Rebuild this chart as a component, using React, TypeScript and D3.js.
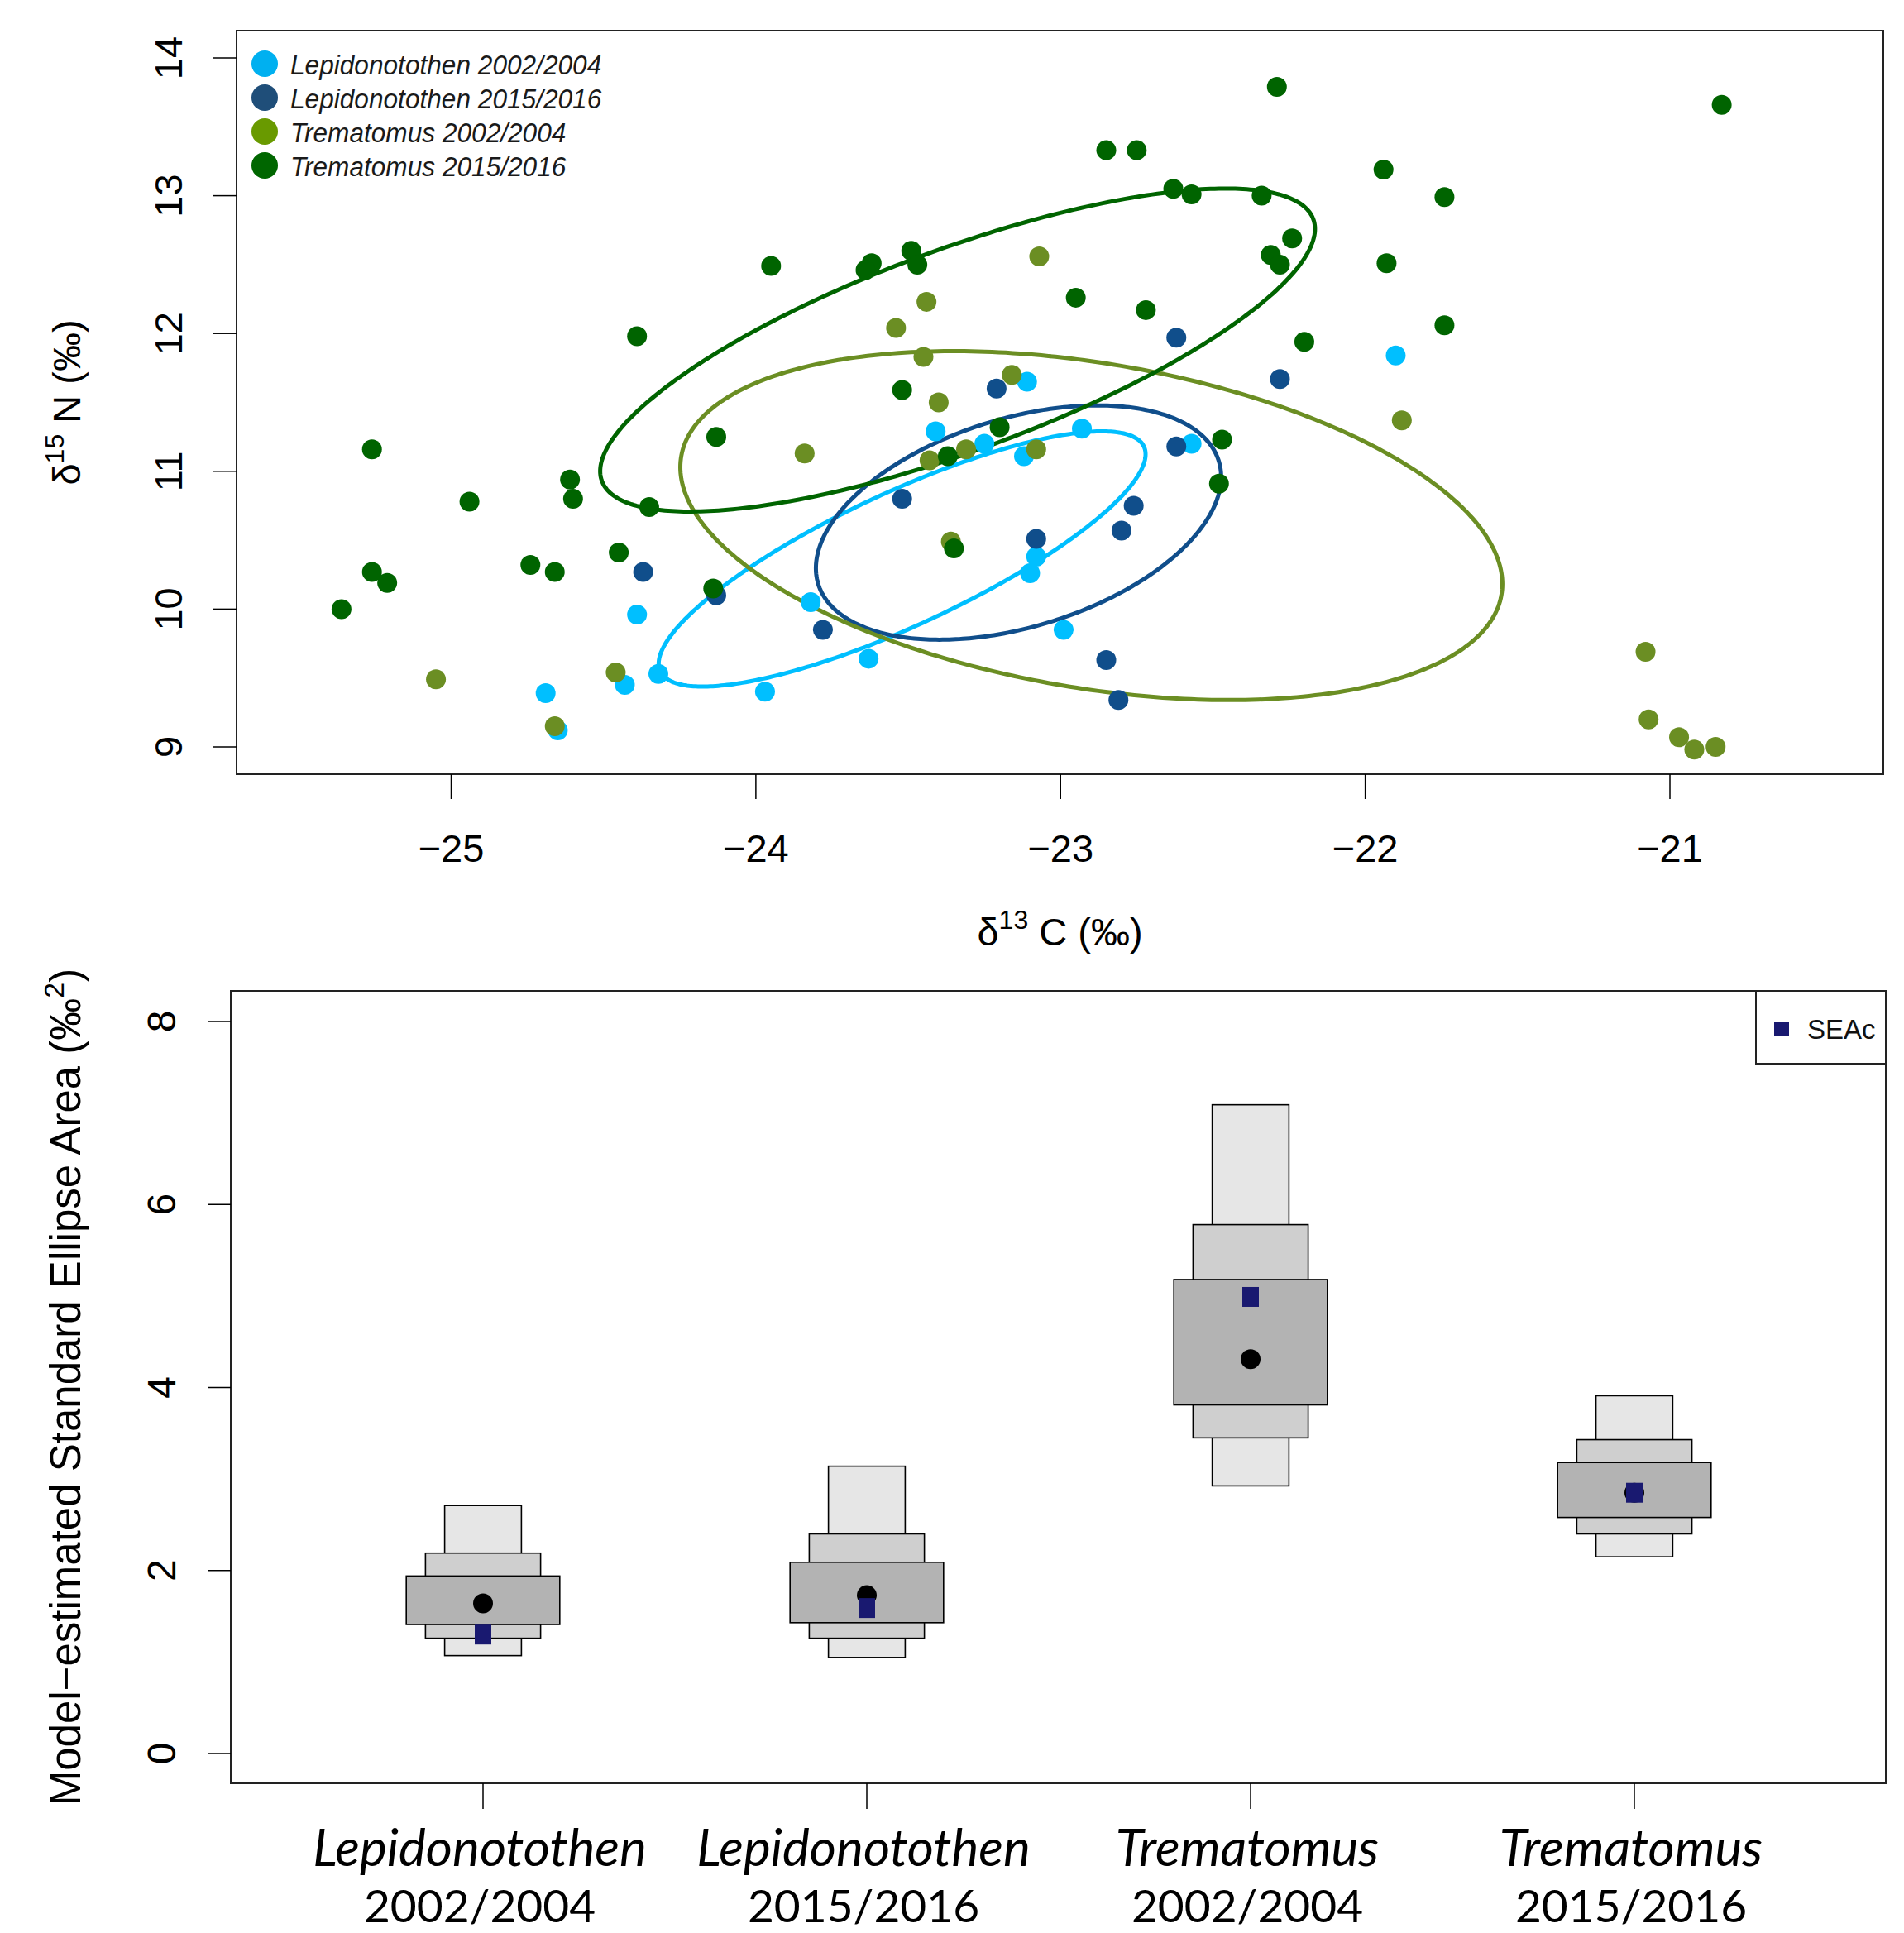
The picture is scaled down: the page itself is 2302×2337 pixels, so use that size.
import React from 'react';
import * as d3 from 'd3';

// d13C, d15N pairs
const lepido0204: [number, number][] = [
  [-23.11, 11.65], [-21.90, 11.84], [-23.41, 11.29], [-22.93, 11.31], [-23.25, 11.20],
  [-23.12, 11.11], [-22.57, 11.20], [-23.08, 10.38], [-23.10, 10.26], [-23.82, 10.05],
  [-22.99, 9.85], [-23.63, 9.64], [-23.97, 9.40], [-24.32, 9.53], [-24.39, 9.96],
  [-24.43, 9.45], [-24.69, 9.39], [-24.65, 9.12],
];
const lepido1516: [number, number][] = [
  [-22.62, 11.97], [-23.21, 11.60], [-22.28, 11.67], [-22.62, 11.18], [-23.52, 10.80],
  [-22.76, 10.75], [-22.80, 10.57], [-23.08, 10.51], [-24.37, 10.27], [-24.13, 10.10],
  [-23.78, 9.85], [-22.85, 9.63], [-22.81, 9.34],
];
const tremat0204: [number, number][] = [
  [-23.07, 12.56], [-23.44, 12.23], [-23.54, 12.04], [-23.45, 11.83], [-23.16, 11.70],
  [-23.40, 11.50], [-23.84, 11.13], [-23.43, 11.08], [-23.31, 11.16], [-23.08, 11.16],
  [-23.36, 10.49], [-21.88, 11.37], [-25.05, 9.49], [-24.46, 9.54], [-24.66, 9.15],
  [-21.08, 9.69], [-21.07, 9.20], [-20.97, 9.07], [-20.92, 8.98], [-20.85, 9.00],
];
const tremat1516: [number, number][] = [
  [-22.29, 13.79], [-20.83, 13.66], [-22.85, 13.33], [-22.75, 13.33], [-22.63, 13.05],
  [-22.57, 13.01], [-22.34, 13.00], [-21.94, 13.19], [-21.74, 12.99], [-22.24, 12.69],
  [-22.31, 12.57], [-22.28, 12.50], [-21.93, 12.51], [-21.74, 12.06], [-22.20, 11.94],
  [-23.95, 12.49], [-23.62, 12.51], [-23.64, 12.46], [-23.49, 12.60], [-23.47, 12.50],
  [-22.95, 12.26], [-22.72, 12.17], [-24.39, 11.98], [-23.52, 11.59], [-24.13, 11.25],
  [-23.20, 11.32], [-23.37, 11.11], [-22.47, 11.23], [-22.48, 10.91], [-23.35, 10.44],
  [-25.26, 11.16], [-24.94, 10.78], [-24.61, 10.94], [-24.60, 10.80], [-24.35, 10.74],
  [-24.74, 10.32], [-24.66, 10.27], [-24.45, 10.41], [-25.26, 10.27], [-25.21, 10.19],
  [-25.36, 10.00], [-24.14, 10.15],
];

// standard ellipses: centre x, centre y, sd x, sd y, correlation
const ellipses = [
  { name: 'lepido0204', cx: -23.52, cy: 10.364, sx: 0.799, sy: 0.926, rho: 0.82 },
  { name: 'lepido1516', cx: -23.138, cy: 10.628, sx: 0.665, sy: 0.85, rho: 0.39 },
  { name: 'tremat0204', cx: -22.899, cy: 10.606, sx: 1.349, sy: 1.266, rho: -0.335 },
  { name: 'tremat1516', cx: -23.338, cy: 11.88, sx: 1.173, sy: 1.172, rho: 0.75 },
];

const seriesNames = ['Lepidonotothen 2002/2004', 'Lepidonotothen 2015/2016', 'Trematomus 2002/2004', 'Trematomus 2015/2016'];
const seriesKeys = ['lepido0204', 'lepido1516', 'tremat0204', 'tremat1516'];
const pointColors = ['#00BFFF', '#104E8B', '#6B8E23', '#006400'];
const legendColors = ['#00B0F0', '#1F4E79', '#699A00', '#006600'];
const scatterData: Record<string, [number, number][]> = { lepido0204, lepido1516, tremat0204, tremat1516 };

const xTicksTop = [-25, -24, -23, -22, -21];
const yTicksTop = [9, 10, 11, 12, 13, 14];

// SIBER posterior SEA: 95%, 75%, 50% credible intervals, mode and SEAc
const groupGenus = ['Lepidonotothen', 'Lepidonotothen', 'Trematomus', 'Trematomus'];
const groupYears = ['2002/2004', '2015/2016', '2002/2004', '2015/2016'];
const ci95: [number, number][] = [[1.07, 2.71], [1.05, 3.14], [2.925, 7.09], [2.15, 3.91]];
const ci75: [number, number][] = [[1.26, 2.19], [1.26, 2.40], [3.45, 5.78], [2.40, 3.43]];
const ci50: [number, number][] = [[1.41, 1.94], [1.43, 2.09], [3.81, 5.18], [2.58, 3.18]];
const seaMode = [1.64, 1.73, 4.31, 2.85];
const seaC = [1.30, 1.59, 4.99, 2.85];
const yTicksBottom = [0, 2, 4, 6, 8];

const FONT = "'Liberation Sans', Arial, sans-serif";
const LABEL_FONT = "Lato, 'Open Sans', sans-serif";

function App() {
  // top panel
  const tp = { left: 286, right: 2277, top: 37, bottom: 936 };
  const x = d3.scaleLinear().domain([-25, -21]).range([545.5, 2019]);
  const y = d3.scaleLinear().domain([9, 14]).range([903, 70]);

  const ellipsePath = (e: typeof ellipses[0]) => {
    const ts = d3.range(0, 2 * Math.PI + 0.001, Math.PI / 180);
    const line = d3.line<number>()
      .x(t => x(e.cx + e.sx * Math.cos(t)))
      .y(t => y(e.cy + e.sy * (e.rho * Math.cos(t) + Math.sqrt(1 - e.rho * e.rho) * Math.sin(t))))
      .curve(d3.curveLinearClosed);
    return line(ts) || '';
  };

  // bottom panel
  const bp = { left: 279, right: 2280, top: 1198, bottom: 2156 };
  const bx = d3.scaleLinear().domain([1, 4]).range([584, 1976]);
  const by = d3.scaleLinear().domain([0, 8]).range([2120, 1235]);
  const grp = d3.range(4);

  const bar = (i: number, ci: [number, number], half: number, fill: string) => (
    <rect x={bx(i + 1 - half)} y={by(ci[1])} width={bx(i + 1 + half) - bx(i + 1 - half)}
      height={by(ci[0]) - by(ci[1])} fill={fill} stroke="#000" strokeWidth={1.6} />
  );

  return (
    <svg width={2302} height={2337} style={{ position: 'absolute', left: 0, top: 0, background: '#fff' }}
      fontFamily={FONT}>
      {/* ---------- top scatter ---------- */}
      <g>
        {ellipses.map((e, i) => (
          <path key={e.name} d={ellipsePath(e)} fill="none" stroke={pointColors[i]} strokeWidth={5} />
        ))}
        {seriesKeys.map((k, i) => (
          <g key={k} fill={pointColors[i]}>
            {scatterData[k].map((d, j) => <circle key={j} cx={x(d[0])} cy={y(d[1])} r={12} />)}
          </g>
        ))}
        <rect x={tp.left} y={tp.top} width={tp.right - tp.left} height={tp.bottom - tp.top}
          fill="none" stroke="#222" strokeWidth={2} />
        {xTicksTop.map(t => (
          <g key={t}>
            <line x1={x(t)} x2={x(t)} y1={tp.bottom} y2={tp.bottom + 30} stroke="#000" strokeWidth={1.5} />
            <text x={x(t)} y={1042} textAnchor="middle" fontSize={47}>{t < 0 ? '\u2212' + Math.abs(t) : t}</text>
          </g>
        ))}
        {yTicksTop.map(t => (
          <g key={t}>
            <line x1={tp.left - 29} x2={tp.left} y1={y(t)} y2={y(t)} stroke="#000" strokeWidth={1.5} />
            <text transform={`translate(220,${y(t)}) rotate(-90)`} textAnchor="middle" fontSize={47}>{t}</text>
          </g>
        ))}
        <text x={(tp.left + tp.right) / 2} y={1143} textAnchor="middle" fontSize={47}>
          <tspan>δ</tspan><tspan fontSize={32} dy={-20}>13</tspan><tspan dy={20}> C (‰)</tspan>
        </text>
        <text transform={`translate(97,${(tp.top + tp.bottom) / 2}) rotate(-90)`} textAnchor="middle" fontSize={47}>
          <tspan>δ</tspan><tspan fontSize={32} dy={-20}>15</tspan><tspan dy={20}> N (‰)</tspan>
        </text>
        {seriesNames.map((s, i) => (
          <g key={s}>
            <circle cx={320} cy={77 + i * 41} r={16} fill={legendColors[i]} />
            <text transform={`translate(351,${90 + i * 41}) scale(0.93,1)`} fontSize={34}
              fontStyle="italic" fill="#1a1a1a">{s}</text>
          </g>
        ))}
      </g>

      {/* ---------- bottom SEA density boxes ---------- */}
      <g>
        {grp.map(i => (
          <g key={i}>
            {bar(i, ci95[i], 0.1, '#E6E6E6')}
            {bar(i, ci75[i], 0.15, '#CFCFCF')}
            {bar(i, ci50[i], 0.2, '#B3B3B3')}
            <circle cx={bx(i + 1)} cy={by(seaMode[i])} r={12} fill="#000" />
            <rect x={bx(i + 1) - 10} y={by(seaC[i]) - 12} width={20} height={24} fill="#191970" />
          </g>
        ))}
        <rect x={bp.left} y={bp.top} width={bp.right - bp.left} height={bp.bottom - bp.top}
          fill="none" stroke="#222" strokeWidth={2} />
        {grp.map(i => (
          <g key={i}>
            <line x1={bx(i + 1)} x2={bx(i + 1)} y1={bp.bottom} y2={bp.bottom + 31} stroke="#000" strokeWidth={1.5} />
            <text x={bx(i + 1) - 4} y={2256} textAnchor="middle" fontSize={62} fontStyle="italic"
              fontFamily={LABEL_FONT}>{groupGenus[i]}</text>
            <text x={bx(i + 1) - 4} y={2324} textAnchor="middle" fontSize={55}
              fontFamily={LABEL_FONT}>{groupYears[i]}</text>
          </g>
        ))}
        {yTicksBottom.map(t => (
          <g key={t}>
            <line x1={bp.left - 27} x2={bp.left} y1={by(t)} y2={by(t)} stroke="#000" strokeWidth={1.5} />
            <text transform={`translate(212,${by(t)}) rotate(-90)`} textAnchor="middle" fontSize={48}>{t}</text>
          </g>
        ))}
        <text transform={`translate(97,${(bp.top + bp.bottom) / 2}) rotate(-90)`} textAnchor="middle" fontSize={51}>
          <tspan>Model−estimated Standard Ellipse Area (‰</tspan><tspan fontSize={34} dy={-20}>2</tspan><tspan dy={20}>)</tspan>
        </text>
        {/* legend */}
        <rect x={2123} y={bp.top} width={bp.right - 2123} height={88} fill="#fff" stroke="#222" strokeWidth={2} />
        <rect x={2145} y={1235} width={18} height={18} fill="#191970" />
        <text x={2185} y={1256} fontSize={33} fill="#111">SEAc</text>
      </g>
    </svg>
  );
}

export default App;
